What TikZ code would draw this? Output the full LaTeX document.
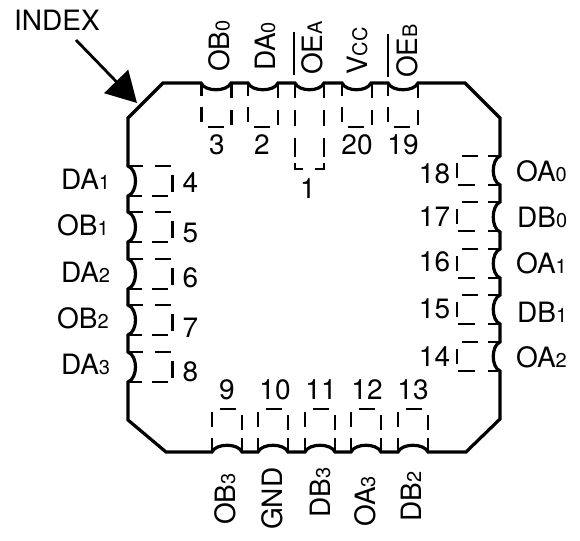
\documentclass[tikz,border=0pt]{standalone}
\usepackage{fontspec}
\setmainfont{TeX Gyre Heros}
\usetikzlibrary{arrows.meta}
\newcommand\lbl[2]{#1{\fontsize{20}{20}\selectfont #2}}
\tikzset{
  body/.style={line width=3.2pt,line join=miter},
  dashpart/.style={line width=2.4pt},
  txt/.style={inner sep=0pt,font=\fontsize{28}{28}\selectfont},
  hlab/.style={txt,anchor=base west},
  hnum/.style={txt,anchor=base},
  vlab/.style={txt,rotate=90,anchor=base west},
  bar/.style={line width=1.8pt},
  pointer/.style={line width=2.8pt,-{Triangle[length=30pt,width=33pt]}}
}
\begin{document}
\begin{tikzpicture}[x=1pt,y=-1pt]
\useasboundingbox (0,0) rectangle (580,540);
% package outline with pin notches
\draw[body] (128,118) -- (163,83)
  -- (201,83) .. controls (205,92) and (227,92) .. (231,83)
  -- (248,83) .. controls (252,92) and (274,92) .. (278,83)
  -- (295,83) .. controls (299,92) and (320,92) .. (324,83)
  -- (342,83) .. controls (346,92) and (367,92) .. (371,83)
  -- (388,83) .. controls (392,92) and (414,92) .. (418,83)
  -- (465,83) -- (500,118)
  -- (500,156) .. controls (491,160) and (491,181) .. (500,185)
  -- (500,202) .. controls (491,206) and (491,228) .. (500,232)
  -- (500,249) .. controls (491,253) and (491,274) .. (500,278)
  -- (500,295) .. controls (491,299) and (491,320) .. (500,324)
  -- (500,342) .. controls (491,346) and (491,367) .. (500,371)
  -- (500,419) -- (466,452)
  -- (428,452) .. controls (424,443) and (402,443) .. (398,452)
  -- (381,452) .. controls (377,443) and (355,443) .. (351,452)
  -- (335,452) .. controls (331,443) and (309,443) .. (305,452)
  -- (288,452) .. controls (284,443) and (262,443) .. (258,452)
  -- (242,452) .. controls (238,443) and (216,443) .. (212,452)
  -- (166,452) -- (128,420)
  -- (128,382) .. controls (138,378) and (138,356) .. (128,352)
  -- (128,335) .. controls (138,331) and (138,309) .. (128,305)
  -- (128,289) .. controls (138,285) and (138,263) .. (128,259)
  -- (128,242) .. controls (138,238) and (138,216) .. (128,212)
  -- (128,196) .. controls (138,192) and (138,170) .. (128,166)
  -- cycle;
% dashed pin footprints
\foreach \a in {201.5,248,342,388}
  \draw[dashpart] (\a,83) -- (\a,96) (\a,107) -- (\a,122) (\a+6,127) -- (\a+22,127)
    (\a+30,83) -- (\a+30,98) (\a+30,110) -- (\a+30,125);
\draw[dashpart] (295,83) -- (295,98) (295,110) -- (295,126) (295,138) -- (295,157)
    (295,163) -- (295,169) -- (303,169) (315,169) -- (324,169) -- (324,163)
    (324,138) -- (324,157) (324,110) -- (324,126) (324,83) -- (324,98);
\foreach \a in {212,258,305,351,398}
  \draw[dashpart] (\a,438) -- (\a,452) (\a,412) -- (\a,427) (\a+8,409) -- (\a+24,409)
    (\a+30,415) -- (\a+30,430) (\a+30,438) -- (\a+30,452);
\foreach \b in {166,212,259,305,352}
  \draw[dashpart] (128,\b) -- (143,\b) (155,\b) -- (171,\b) (172.5,\b+9) -- (172.5,\b+26)
    (128,\b+30) -- (142,\b+30) (152,\b+30) -- (168,\b+30);
\foreach \b in {156,202,249,295,342}
  \draw[dashpart] (500,\b) -- (488,\b) (478,\b) -- (462,\b) (457,\b+7) -- (457,\b+22)
    (500,\b+29) -- (488,\b+29) (475,\b+29) -- (458,\b+29);
% index marker
\node[hlab] (index) at (14,31) {INDEX};
\coordinate (arrowstart) at (76,40);
\coordinate (arrowtip) at (137,103);
\draw[pointer] (arrowstart) -- (arrowtip);
% top labels
\node[vlab] (ob0) at (229.5,72) {\lbl{OB}{0}};
\node[vlab] (da0) at (275,71) {\lbl{DA}{0}};
\node[vlab] (oea) at (322,75) {\lbl{OE}{A}};
\node[vlab] (vcc) at (367,75) {\lbl{V}{CC}};
\node[vlab] (oeb) at (417,78) {\lbl{OE}{B}};
\coordinate (oeaS) at (294,75); \coordinate (oeaE) at (294,32);
\coordinate (oebS) at (388,77); \coordinate (oebE) at (388,34);
\draw[bar] (oeaS) -- (oeaE) (oebS) -- (oebE);
\node[hnum] (n3) at (217,155) {3};
\node[hnum] (n2) at (262,155) {2};
\node[hnum] (n1) at (308,198) {1};
\node[hnum] (n20) at (357,155) {20};
\node[hnum] (n19) at (403,155) {19};
% left labels
\node[hlab] (da1) at (61,189) {\lbl{DA}{1}};
\node[hlab] (ob1) at (57,235) {\lbl{OB}{1}};
\node[hlab] (da2) at (61,282) {\lbl{DA}{2}};
\node[hlab] (ob2) at (57,328) {\lbl{OB}{2}};
\node[hlab] (da3) at (61,374) {\lbl{DA}{3}};
\node[hnum] (n4) at (190.5,192) {4};
\node[hnum] (n5) at (190.5,242) {5};
\node[hnum] (n6) at (190.5,287) {6};
\node[hnum] (n7) at (190.5,337) {7};
\node[hnum] (n8) at (190.5,381) {8};
% right labels
\node[hlab] (oa0) at (516,181) {\lbl{OA}{0}};
\node[hlab] (db0) at (517,227) {\lbl{DB}{0}};
\node[hlab] (oa1) at (516,273) {\lbl{OA}{1}};
\node[hlab] (db1) at (517,322) {\lbl{DB}{1}};
\node[hlab] (oa2) at (516,367) {\lbl{OA}{2}};
\node[hnum] (n18) at (434.5,183) {18};
\node[hnum] (n17) at (434.5,226) {17};
\node[hnum] (n16) at (434.5,271) {16};
\node[hnum] (n15) at (434.5,318) {15};
\node[hnum] (n14) at (434.5,366) {14};
% bottom labels
\node[hnum] (n9) at (227,399) {9};
\node[hnum] (n10) at (275,399) {10};
\node[hnum] (n11) at (321,399) {11};
\node[hnum] (n12) at (367,399) {12};
\node[hnum] (n13) at (413,399) {13};
\node[vlab] (ob3) at (235,525) {\lbl{OB}{3}};
\node[vlab] (gnd) at (282,530) {GND};
\node[vlab] (db3) at (330,518) {\lbl{DB}{3}};
\node[vlab] (oa3) at (375,527) {\lbl{OA}{3}};
\node[vlab] (db2) at (421,522) {\lbl{DB}{2}};
\end{tikzpicture}
\end{document}
